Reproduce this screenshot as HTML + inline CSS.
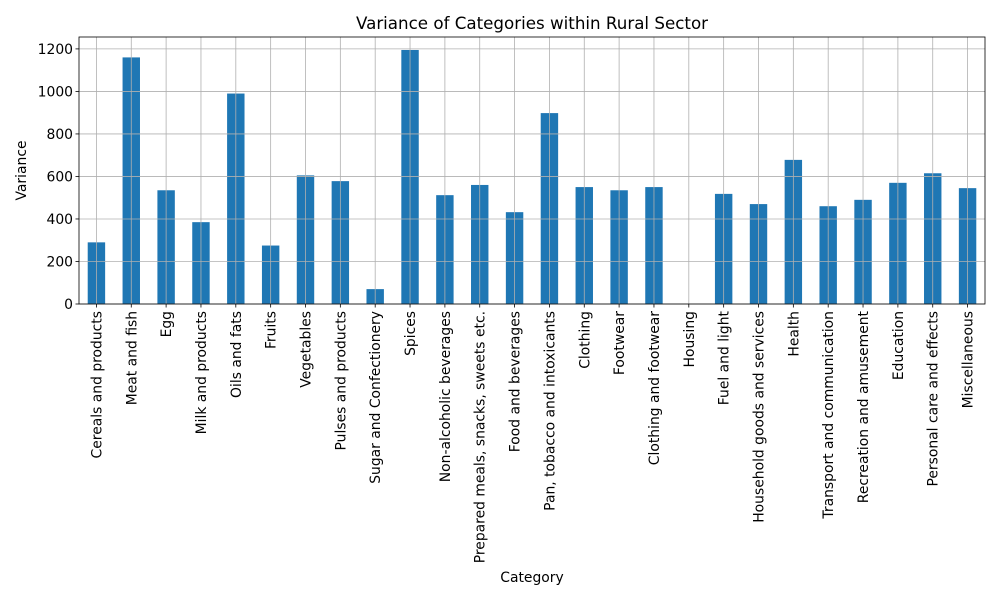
<!DOCTYPE html>
<html><head><meta charset="utf-8"><style>
body{margin:0;background:#fff;}
svg text{font-family:"DejaVu Sans","Liberation Sans",sans-serif;fill:#000;}
</style></head><body>
<svg id="chart" width="1000" height="600" xmlns="http://www.w3.org/2000/svg"></svg>
<script>
const categories=["Cereals and products","Meat and fish","Egg","Milk and products","Oils and fats","Fruits","Vegetables","Pulses and products","Sugar and Confectionery","Spices","Non-alcoholic beverages","Prepared meals, snacks, sweets etc.","Food and beverages","Pan, tobacco and intoxicants","Clothing","Footwear","Clothing and footwear","Housing","Fuel and light","Household goods and services","Health","Transport and communication","Recreation and amusement","Education","Personal care and effects","Miscellaneous"];
const values=[290,1160,535,385,990,275,605,578,70,1195,512,560,432,898,550,535,550,0,518,470,678,460,490,570,615,545];
const yTicks=[0,200,400,600,800,1000,1200];
const svg=document.getElementById('chart');
const NS='http://www.w3.org/2000/svg';
const L=79,R=985,T=37,B=304,yMax=1256;
const n=categories.length,step=(R-L)/n;
const xc=i=>L+step*(i+0.5);
const y=v=>B-(v/yMax)*(B-T);
function mk(tag,attrs,parent){const e=document.createElementNS(NS,tag);for(const k in attrs)e.setAttribute(k,attrs[k]);(parent||svg).appendChild(e);return e;}
const bars=mk('g',{});


values.forEach((v,i)=>{
 const r=mk('rect',{x:xc(i)-step/4,y:y(v),width:step/2,height:B-y(v),fill:'#1f77b4'},bars);
 
 
});
const grid=mk('g',{stroke:'#b0b0b0','stroke-width':0.8});


categories.forEach((c,i)=>mk('line',{x1:xc(i),x2:xc(i),y1:T,y2:B},grid));
yTicks.forEach(t=>mk('line',{x1:L,x2:R,y1:y(t),y2:y(t)},grid));
const frame=mk('rect',{x:L,y:T,width:R-L,height:B-T,fill:'none',stroke:'#000','stroke-width':0.8});


yTicks.forEach(t=>{
 mk('line',{x1:L-3.5,x2:L,y1:y(t),y2:y(t),stroke:'#000','stroke-width':0.8});
 const tx=mk('text',{x:L-6,y:y(t)+5,'text-anchor':'end','font-size':13.9});
 tx.textContent=t;
 
 
});
categories.forEach((c,i)=>{
 mk('line',{x1:xc(i),x2:xc(i),y1:B,y2:B+3.5,stroke:'#000','stroke-width':0.8});
 const tx=mk('text',{x:0,y:0,'text-anchor':'end','font-size':13.9,transform:`translate(${xc(i)+5},${B+7}) rotate(-90)`});
 tx.textContent=c;
 
 
});
const title=mk('text',{x:(L+R)/2,y:29,'text-anchor':'middle','font-size':16.7});
title.textContent='Variance of Categories within Rural Sector';


const xt=mk('text',{x:(L+R)/2,y:582,'text-anchor':'middle','font-size':13.9});
xt.textContent='Category';


const yt=mk('text',{x:0,y:0,'text-anchor':'middle','font-size':13.9,transform:`translate(26,${(T+B)/2}) rotate(-90)`});
yt.textContent='Variance';


</script>
</body></html>
